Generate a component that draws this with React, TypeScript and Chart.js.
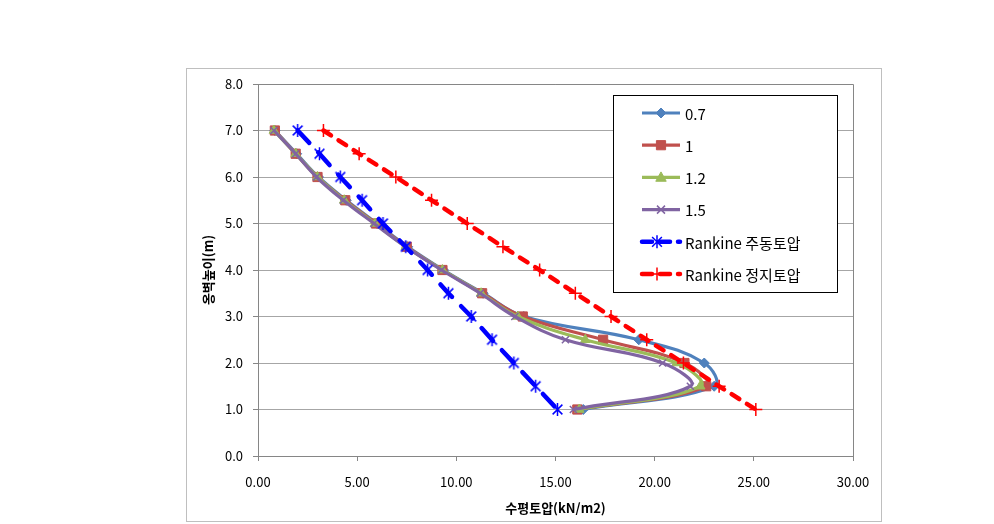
import React, { useEffect, useRef } from 'react';
import { Chart, registerables } from 'chart.js';

Chart.register(...registerables);

// ---- data ----
const heights = [7.0, 6.5, 6.0, 5.5, 5.0, 4.5, 4.0, 3.5, 3.0, 2.5, 2.0, 1.5, 1.0];
const s07 = [0.85, 1.95, 3.05, 4.45, 6.0, 7.55, 9.35, 11.35, 13.4, 19.2, 22.5, 23.0, 16.4];
const s10 = [0.85, 1.9, 3.0, 4.4, 5.95, 7.5, 9.3, 11.3, 13.35, 17.4, 21.5, 22.6, 16.1];
const s12 = [0.8, 1.9, 3.0, 4.35, 5.9, 7.45, 9.3, 11.25, 13.1, 16.5, 21.1, 22.3, 16.2];
const s15 = [0.8, 1.9, 2.95, 4.3, 5.85, 7.45, 9.25, 11.2, 12.95, 15.5, 20.4, 21.8, 15.9];
const rankineActive = [2.0, 3.1, 4.15, 5.25, 6.3, 7.45, 8.55, 9.6, 10.75, 11.8, 12.9, 14.0, 15.1];
const rankineRest = [3.3, 5.1, 6.95, 8.75, 10.55, 12.35, 14.2, 16.0, 17.8, 19.6, 21.45, 23.25, 25.1];

const seriesLabels = ['0.7', '1', '1.2', '1.5', 'Rankine 주동토압', 'Rankine 정지토압'];
const xTitle = '수평토압(kN/m2)';
const yTitle = '옹벽높이(m)';
const xMin = 0, xMax = 30, xStep = 5;
const yMin = 0, yMax = 8, yStep = 1;

const FONT = "'Noto Sans CJK KR', 'Noto Sans', sans-serif";

type Style = 'diamond' | 'square' | 'triangle' | 'x' | 'star' | 'plus';

function makeAsterisk(color: string, r: number, lw: number) {
  const s = Math.ceil(2 * r + lw + 2);
  const c = document.createElement('canvas');
  c.width = s; c.height = s;
  const g = c.getContext('2d')!;
  const m = s / 2;
  drawMarker(g, 'star', m, m, r, color, lw);
  return c;
}

function drawMarker(ctx: CanvasRenderingContext2D, style: Style, x: number, y: number, r: number, color: string, lw: number) {
  ctx.save();
  ctx.fillStyle = color;
  ctx.strokeStyle = color;
  ctx.lineWidth = lw;
  ctx.beginPath();
  if (style === 'diamond') {
    ctx.moveTo(x, y - r); ctx.lineTo(x + r, y); ctx.lineTo(x, y + r); ctx.lineTo(x - r, y); ctx.closePath();
    ctx.fill(); ctx.stroke();
  } else if (style === 'square') {
    const h = r * Math.SQRT1_2;
    ctx.rect(x - h, y - h, 2 * h, 2 * h); ctx.fill(); ctx.stroke();
  } else if (style === 'triangle') {
    ctx.moveTo(x, y - r); ctx.lineTo(x + r * 0.95, y + r * 0.7); ctx.lineTo(x - r * 0.95, y + r * 0.7); ctx.closePath();
    ctx.fill(); ctx.stroke();
  } else if (style === 'x') {
    const d = r * 0.8;
    ctx.moveTo(x - d, y - d); ctx.lineTo(x + d, y + d); ctx.moveTo(x + d, y - d); ctx.lineTo(x - d, y + d); ctx.stroke();
  } else if (style === 'star') {
    const d = r * 0.75;
    ctx.moveTo(x, y - r); ctx.lineTo(x, y + r);
    ctx.moveTo(x - d, y - d); ctx.lineTo(x + d, y + d); ctx.moveTo(x + d, y - d); ctx.lineTo(x - d, y + d); ctx.stroke();
  } else if (style === 'plus') {
    ctx.moveTo(x, y - r); ctx.lineTo(x, y + r); ctx.moveTo(x - r, y); ctx.lineTo(x + r, y); ctx.stroke();
  }
  ctx.restore();
}

interface SeriesSpec {
  label: string; xs: number[]; color: string; style: Style; chartStyle: any; radius: number;
  width: number; dash: number[]; tension: number; markerLw: number;
}

const specs: SeriesSpec[] = [
  { label: seriesLabels[0], xs: s07, color: '#4F81BD', style: 'diamond', chartStyle: 'rectRot', radius: 5, width: 3.2, dash: [], tension: 0.4, markerLw: 1 },
  { label: seriesLabels[1], xs: s10, color: '#C0504D', style: 'square', chartStyle: 'rect', radius: 6.5, width: 3.2, dash: [], tension: 0.4, markerLw: 1 },
  { label: seriesLabels[2], xs: s12, color: '#9BBB59', style: 'triangle', chartStyle: 'triangle', radius: 5.5, width: 3.2, dash: [], tension: 0.4, markerLw: 1 },
  { label: seriesLabels[3], xs: s15, color: '#8064A2', style: 'x', chartStyle: 'crossRot', radius: 5, width: 3.2, dash: [], tension: 0.4, markerLw: 1.5 },
  { label: seriesLabels[4], xs: rankineActive, color: '#0000FF', style: 'star', chartStyle: 'star', radius: 6.5, width: 4.5, dash: [17, 13], tension: 0, markerLw: 1.5 },
  { label: seriesLabels[5], xs: rankineRest, color: '#FF0000', style: 'plus', chartStyle: 'cross', radius: 6.5, width: 4.5, dash: [9, 9], tension: 0, markerLw: 1.5 },
];

const framePlugin = {
  id: 'frame',
  beforeDraw(chart: any) {
    const ctx = chart.ctx as CanvasRenderingContext2D;
    ctx.save();
    ctx.fillStyle = '#ffffff';
    ctx.fillRect(0, 0, chart.width, chart.height);
    ctx.strokeStyle = '#bfbfbf';
    ctx.lineWidth = 1;
    ctx.strokeRect(186.5, 68.5, 695, 453);
    ctx.restore();
  },
  beforeDatasetsDraw(chart: any) {
    const { left, top, right, bottom } = chart.chartArea;
    const ctx = chart.ctx as CanvasRenderingContext2D;
    ctx.save();
    ctx.strokeStyle = '#868686';
    ctx.lineWidth = 1;
    ctx.beginPath();
    ctx.moveTo(left, top + 0.5); ctx.lineTo(right + 0.5, top + 0.5); ctx.lineTo(right + 0.5, bottom);
    ctx.stroke();
    ctx.restore();
  },
  afterDraw(chart: any) {
    const ctx = chart.ctx as CanvasRenderingContext2D;
    const bx = 613, by = 95, bw = 224, bh = 197;
    ctx.save();
    ctx.fillStyle = '#ffffff';
    ctx.fillRect(bx, by, bw, bh);
    ctx.strokeStyle = '#000000';
    ctx.lineWidth = 1;
    ctx.strokeRect(bx + 0.5, by + 0.5, bw, bh);
    ctx.font = `15px ${FONT}`;
    ctx.textBaseline = 'middle';
    ctx.textAlign = 'left';
    specs.forEach((s, i) => {
      const y = 113 + i * 32.2;
      const x1 = 642, x2 = 680;
      ctx.save();
      ctx.strokeStyle = s.color;
      ctx.lineWidth = s.width;
      ctx.lineCap = s.dash.length ? 'round' : 'butt';
      ctx.setLineDash(s.dash.length ? [10, 8] : []);
      ctx.beginPath(); ctx.moveTo(x1, y); ctx.lineTo(x2, y); ctx.stroke();
      ctx.restore();
      drawMarker(ctx, s.style, (x1 + x2) / 2 - (s.dash.length ? 4 : 0), y, s.radius, s.color, s.markerLw);
      ctx.fillStyle = '#000000';
      ctx.fillText(s.label, 685, y + 1);
    });
    ctx.restore();
  },
};

export default function App() {
  const ref = useRef<HTMLCanvasElement | null>(null);
  useEffect(() => {
    if (!ref.current) return;
    const datasets = specs.map((s, i) => ({
      label: s.label,
      data: s.xs.map((x, k) => ({ x, y: heights[k] })),
      borderColor: s.color,
      backgroundColor: s.color,
      borderWidth: s.width,
      borderDash: s.dash,
      borderCapStyle: s.dash.length ? 'round' : 'butt',
      borderJoinStyle: 'round',
      tension: s.tension,
      pointStyle: s.style === 'star' ? makeAsterisk(s.color, s.radius, s.markerLw) : s.chartStyle,
      pointRadius: s.radius,
      pointBorderWidth: s.markerLw,
      pointBackgroundColor: s.color,
      pointBorderColor: s.color,
      fill: false,
      order: specs.length - 1 - i,
    }));
    const chart = new Chart(ref.current, {
      type: 'line',
      data: { datasets } as any,
      options: {
        animation: false,
        responsive: false,
        events: [],
        layout: { padding: { left: 196, right: 141, top: 84, bottom: 4 } },
        plugins: { legend: { display: false }, tooltip: { enabled: false } },
        scales: {
          x: {
            type: 'linear', min: xMin, max: xMax,
            afterFit: (sc: any) => { sc.height = 64; },
            ticks: { stepSize: xStep, padding: 13, color: '#000', font: { family: FONT, size: 13 }, callback: (v: any) => Number(v).toFixed(2), maxRotation: 0 },
            grid: { drawOnChartArea: false, drawTicks: true, tickLength: 5, tickColor: '#868686' },
            border: { color: '#868686', width: 1 },
            title: { display: true, text: xTitle, color: '#000', font: { family: FONT, size: 13, weight: 'bold' }, padding: { top: 4, bottom: 4 } },
          },
          y: {
            type: 'linear', min: yMin, max: yMax,
            afterFit: (sc: any) => { sc.width = 62; },
            ticks: { stepSize: yStep, padding: 10, color: '#000', font: { family: FONT, size: 13 }, callback: (v: any) => Number(v).toFixed(1) },
            grid: { color: '#a6a6a6', drawTicks: true, tickLength: 5, tickColor: '#868686' },
            border: { color: '#868686', width: 1 },
            title: { display: true, text: yTitle, color: '#000', font: { family: FONT, size: 13, weight: 'bold' }, padding: { top: 4, bottom: 4 } },
          },
        },
      } as any,
      plugins: [framePlugin],
    });
    return () => chart.destroy();
  }, []);
  return (
    <div style={{ position: 'fixed', left: 0, top: 0, width: 994, height: 524 }}>
      <canvas ref={ref} width={994} height={524} style={{ display: 'block', width: 994, height: 524 }} />
    </div>
  );
}
